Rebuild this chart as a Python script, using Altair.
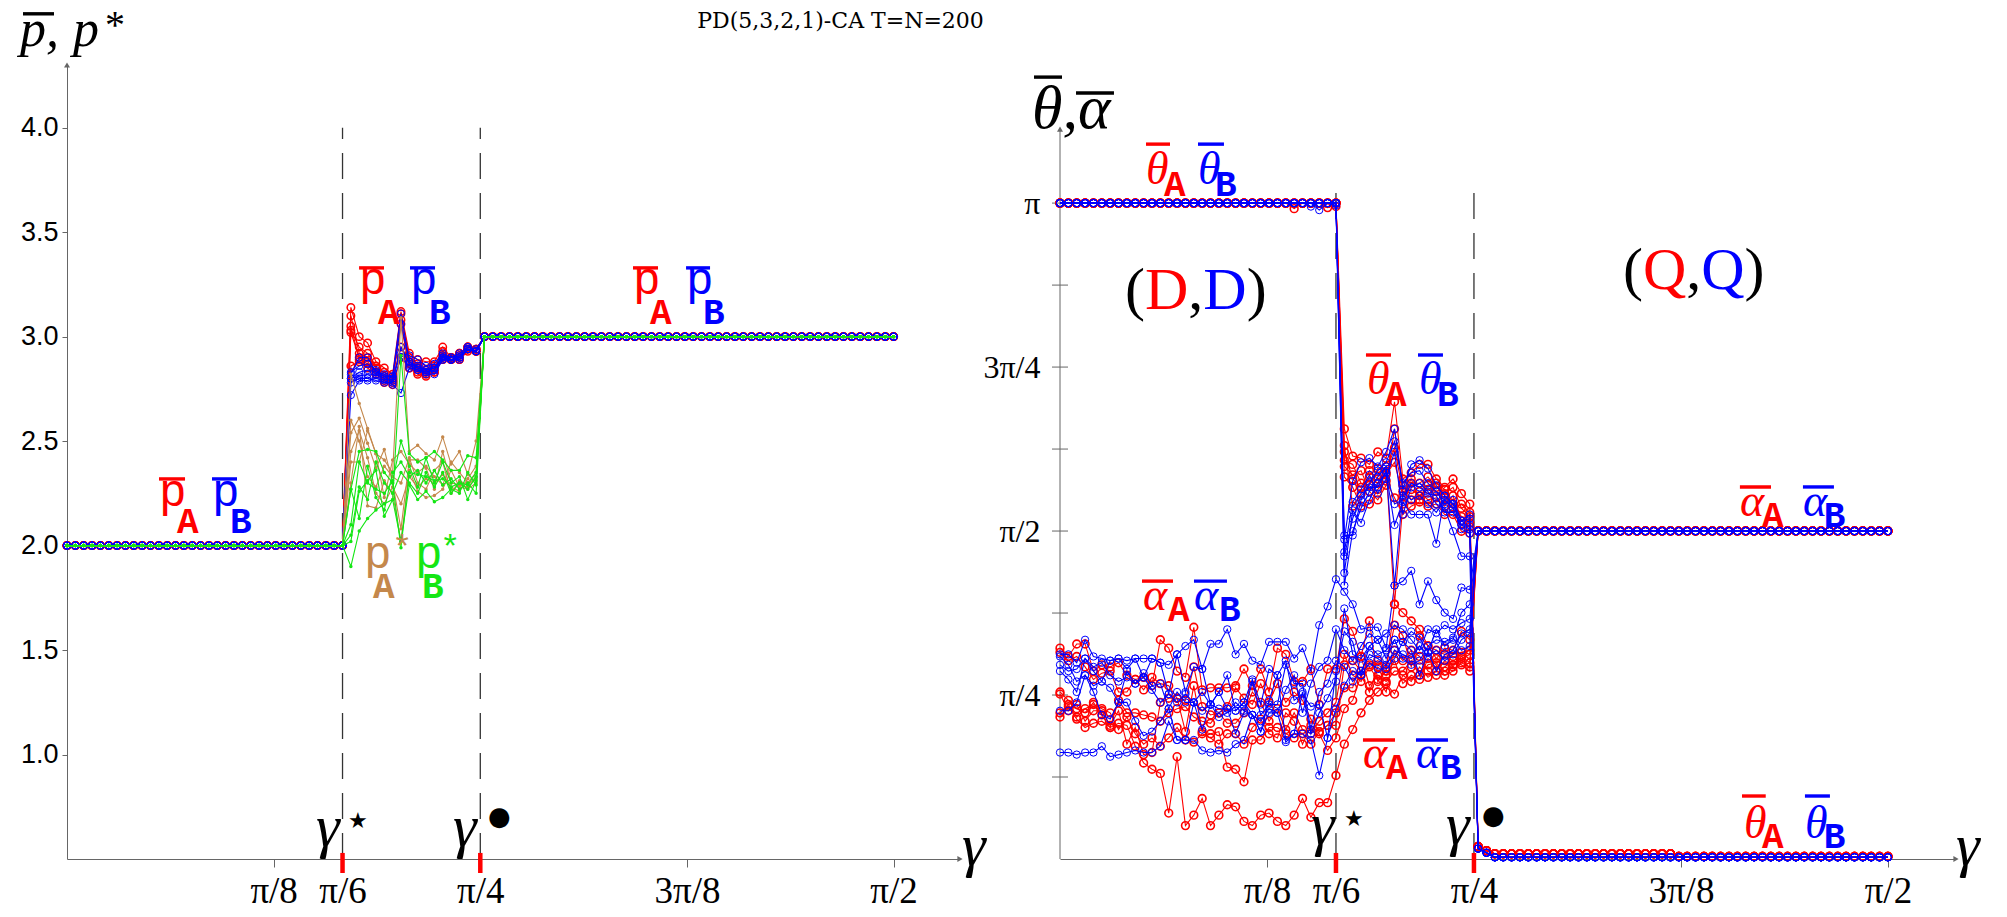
import math
import altair as alt
import pandas as pd

PI = math.pi
RED = "#ff0000"
BLUE = "#0000ff"
BROWN = "#c4884c"
GREEN = "#14e614"
AXIS = "#666666"
INK = "#000000"

# gamma grid: 100 samples on [0, pi/2]; index 33 is pi/6
STEP = PI / 198
GAMMA = [i * STEP for i in range(100)]
N_LOW, N_HIGH = 34, 50          # plateau lengths before pi/6 and after pi/4

# ---------------- left panel: payoffs ----------------
PBAR_LOW, PBAR_HIGH = 2.0, 3.0

# transition samples, gamma index 34..49, six runs each
pbar_A_mid = [
    [3.14, 3.00, 2.97, 2.88, 2.85, 2.82, 3.12, 2.92, 2.89, 2.88, 2.88, 2.95, 2.90, 2.92, 2.95, 2.94],
    [3.10, 2.92, 2.90, 2.85, 2.83, 2.80, 3.08, 2.88, 2.85, 2.84, 2.85, 2.91, 2.89, 2.89, 2.93, 2.93],
    [3.05, 2.89, 2.87, 2.82, 2.81, 2.78, 3.06, 2.85, 2.82, 2.81, 2.83, 2.89, 2.90, 2.92, 2.95, 2.94],
    [3.03, 2.95, 2.92, 2.86, 2.78, 2.80, 2.95, 2.87, 2.86, 2.84, 2.84, 2.93, 2.89, 2.90, 2.94, 2.93],
    [3.02, 2.90, 2.88, 2.83, 2.80, 2.77, 2.90, 2.85, 2.83, 2.82, 2.83, 2.89, 2.89, 2.89, 2.94, 2.93],
    [2.86, 2.88, 2.85, 2.82, 2.79, 2.79, 3.11, 2.90, 2.87, 2.83, 2.86, 2.90, 2.90, 2.91, 2.95, 2.94],
]
pbar_B_mid = [
    [2.72, 2.79, 2.79, 2.80, 2.79, 2.77, 2.73, 2.85, 2.84, 2.83, 2.84, 2.89, 2.89, 2.90, 2.94, 2.93],
    [2.80, 2.83, 2.84, 2.83, 2.81, 2.81, 3.11, 2.88, 2.85, 2.84, 2.85, 2.91, 2.90, 2.92, 2.95, 2.94],
    [2.82, 2.90, 2.90, 2.83, 2.82, 2.80, 2.92, 2.91, 2.89, 2.86, 2.87, 2.92, 2.89, 2.90, 2.95, 2.93],
    [2.78, 2.80, 2.80, 2.79, 2.78, 2.78, 2.90, 2.86, 2.84, 2.82, 2.82, 2.89, 2.89, 2.89, 2.94, 2.93],
    [2.83, 2.86, 2.87, 2.84, 2.81, 2.81, 3.06, 2.88, 2.86, 2.84, 2.85, 2.90, 2.90, 2.91, 2.94, 2.93],
    [2.80, 2.81, 2.82, 2.82, 2.80, 2.79, 2.95, 2.87, 2.85, 2.83, 2.84, 2.90, 2.89, 2.90, 2.94, 2.93],
]
pstar_A_mid = [
    [2.82, 2.68, 2.56, 2.44, 2.41, 2.35, 3.09, 2.45, 2.48, 2.44, 2.41, 2.52, 2.39, 2.45, 2.34, 2.50],
    [2.54, 2.61, 2.49, 2.37, 2.46, 2.30, 2.08, 2.41, 2.41, 2.37, 2.27, 2.45, 2.30, 2.29, 2.28, 2.32],
    [2.30, 2.57, 2.19, 2.18, 2.31, 2.25, 2.02, 2.36, 2.26, 2.23, 2.24, 2.27, 2.36, 2.28, 2.27, 2.30],
    [2.40, 2.40, 2.55, 2.44, 2.23, 2.41, 2.45, 2.39, 2.35, 2.38, 2.33, 2.29, 2.40, 2.35, 2.30, 2.35],
    [2.60, 2.50, 2.33, 2.28, 2.38, 2.33, 2.30, 2.42, 2.30, 2.27, 2.36, 2.40, 2.25, 2.31, 2.29, 2.33],
    [2.45, 2.55, 2.42, 2.25, 2.20, 2.28, 2.20, 2.33, 2.28, 2.32, 2.30, 2.34, 2.28, 2.26, 2.32, 2.38],
]
pstar_B_mid = [
    [1.90, 2.07, 2.13, 2.17, 2.20, 2.22, 2.91, 2.44, 2.40, 2.42, 2.45, 2.41, 2.36, 2.36, 2.43, 2.42],
    [2.27, 2.45, 2.46, 2.45, 2.35, 2.30, 1.99, 2.35, 2.34, 2.33, 2.31, 2.32, 2.28, 2.30, 2.29, 2.35],
    [2.02, 2.26, 2.31, 2.36, 2.14, 2.22, 2.02, 2.29, 2.22, 2.26, 2.21, 2.23, 2.27, 2.25, 2.35, 2.29],
    [2.10, 2.40, 2.30, 2.27, 2.25, 2.31, 2.50, 2.38, 2.28, 2.42, 2.30, 2.40, 2.30, 2.33, 2.22, 2.31],
    [2.27, 2.13, 2.38, 2.23, 2.17, 2.35, 2.40, 2.33, 2.36, 2.30, 2.36, 2.29, 2.32, 2.27, 2.30, 2.25],
    [2.05, 2.28, 2.22, 2.40, 2.30, 2.25, 2.35, 2.30, 2.25, 2.35, 2.28, 2.35, 2.25, 2.30, 2.27, 2.33],
]

# ---------------- right panel: strategy angles ----------------
THETA_D = PI          # (D,D) plateau
ALPHA_Q = PI / 2      # (Q,Q) plateau

# theta, gamma index 28..33 (just before pi/6)
theta_A_edge = [
    [3.115, PI, PI, PI, PI, PI],
    [PI, PI, PI, PI, 3.12, PI],
    [PI, PI, PI, PI, PI, PI],
    [PI, PI, PI, PI, PI, 3.125],
    [PI, PI, PI, PI, PI, PI],
    [PI, PI, PI, PI, PI, PI],
]
theta_B_edge = [
    [PI, PI, PI, 3.108, PI, PI],
    [PI, PI, 3.125, PI, PI, PI],
    [PI, PI, PI, PI, PI, 3.13],
    [PI, PI, PI, PI, PI, PI],
    [PI, PI, PI, PI, PI, PI],
    [PI, PI, PI, PI, PI, PI],
]
# theta, gamma index 34..49
theta_A_mid = [
    [2.06, 1.93, 1.92, 1.89, 1.95, 1.92, 2.19, 1.82, 1.85, 1.89, 1.89, 1.82, 1.78, 1.82, 1.75, 1.70],
    [1.91, 1.89, 1.80, 1.79, 1.87, 1.85, 1.97, 1.76, 1.77, 1.74, 1.77, 1.76, 1.73, 1.70, 1.64, 1.61],
    [1.83, 1.78, 1.69, 1.70, 1.77, 1.81, 1.73, 1.65, 1.69, 1.71, 1.69, 1.70, 1.65, 1.65, 1.57, 1.56],
    [1.98, 1.69, 1.75, 1.83, 1.80, 1.88, 1.22, 1.70, 1.80, 1.80, 1.83, 1.78, 1.75, 1.78, 1.68, 1.64],
    [1.88, 1.84, 1.86, 1.76, 1.72, 1.79, 2.06, 1.79, 1.72, 1.76, 1.72, 1.73, 1.69, 1.74, 1.62, 1.59],
    [1.95, 1.82, 1.78, 1.86, 1.82, 1.84, 1.90, 1.74, 1.82, 1.72, 1.79, 1.80, 1.77, 1.68, 1.70, 1.66],
]
theta_B_mid = [
    [1.53, 1.81, 1.90, 1.92, 1.88, 1.95, 2.06, 1.77, 1.89, 1.91, 1.87, 1.79, 1.74, 1.70, 1.62, 1.65],
    [1.47, 1.71, 1.77, 1.84, 1.75, 1.82, 1.95, 1.65, 1.78, 1.80, 1.76, 1.70, 1.68, 1.57, 1.45, 1.45],
    [1.37, 1.67, 1.61, 1.72, 1.80, 1.85, 1.60, 1.71, 1.65, 1.65, 1.65, 1.51, 1.74, 1.70, 1.60, 1.60],
    [1.31, 1.57, 1.68, 1.76, 1.83, 1.88, 1.31, 1.76, 1.72, 1.74, 1.70, 1.66, 1.72, 1.68, 1.58, 1.56],
    [1.55, 1.55, 1.72, 1.80, 1.86, 1.90, 2.00, 1.80, 1.85, 1.86, 1.80, 1.76, 1.70, 1.72, 1.62, 1.63],
    [1.45, 1.63, 1.74, 1.78, 1.78, 1.86, 1.70, 1.72, 1.80, 1.78, 1.75, 1.74, 1.66, 1.66, 1.60, 1.58],
]
# theta after pi/4 (gamma index 50..99)
theta_A_tail = [0.06, 0.04] + [0.025] * 22 + [0.012] * 26
theta_B_tail = [0.05, 0.03] + [0.008] * 48

# alpha, gamma index 0..32
alpha_A_head = [
    [1.01, 0.97, 1.03, 1.03, 0.90, 0.93, 0.92, 0.94, 0.88, 0.86, 0.87, 0.83, 1.05, 1.01, 0.90, 0.87, 1.11,
     0.81, 0.82, 0.82, 0.82, 0.83, 0.91, 0.83, 0.91, 0.80, 1.01, 0.98, 0.85, 0.85, 0.91, 0.74, 0.91],
    [0.99, 0.95, 0.97, 0.92, 0.86, 0.89, 0.90, 0.80, 0.80, 0.86, 0.81, 0.87, 0.84, 0.83, 0.77, 0.76, 0.92,
     0.73, 0.69, 0.70, 0.73, 0.82, 0.77, 0.74, 0.84, 0.75, 0.84, 0.75, 0.80, 0.76, 0.67, 0.61, 0.64],
    [0.79, 0.71, 0.74, 0.66, 0.71, 0.71, 0.64, 0.71, 0.55, 0.63, 0.50, 0.51, 0.75, 0.77, 0.77, 0.61, 0.83,
     0.61, 0.60, 0.61, 0.44, 0.43, 0.37, 0.57, 0.57, 0.63, 0.63, 0.60, 0.58, 0.60, 0.55, 0.61, 0.64],
    [0.68, 0.73, 0.67, 0.63, 0.65, 0.66, 0.63, 0.65, 0.64, 0.54, 0.46, 0.43, 0.41, 0.22, 0.49, 0.16, 0.21,
     0.29, 0.16, 0.21, 0.26, 0.25, 0.18, 0.16, 0.21, 0.22, 0.18, 0.16, 0.21, 0.29, 0.20, 0.27, 0.27],
    [0.80, 0.76, 0.72, 0.70, 0.75, 0.69, 0.63, 0.76, 0.70, 0.70, 0.69, 0.68, 0.66, 0.70, 0.72, 0.73, 0.68,
     0.66, 0.65, 0.70, 0.65, 0.65, 0.70, 0.80, 0.75, 0.66, 0.72, 0.62, 0.70, 0.62, 0.60, 0.66, 0.70],
    [0.70, 0.74, 0.68, 0.72, 0.74, 0.72, 0.70, 0.62, 0.68, 0.60, 0.55, 0.58, 0.54, 0.58, 0.63, 0.57, 0.56,
     0.60, 0.58, 0.55, 0.60, 0.60, 0.55, 0.63, 0.67, 0.60, 0.58, 0.70, 0.66, 0.55, 0.64, 0.60, 0.52],
]
alpha_B_head = [
    [0.51, 0.51, 0.50, 0.51, 0.51, 0.54, 0.49, 0.50, 0.51, 0.52, 0.51, 0.51, 0.54, 0.66, 0.57, 0.57, 0.57,
     0.52, 0.51, 0.52, 0.51, 0.55, 0.57, 0.69, 0.61, 0.70, 0.70, 0.56, 0.60, 0.60, 0.57, 0.40, 0.58],
    [0.98, 0.98, 0.94, 1.05, 0.97, 0.96, 0.95, 0.96, 0.95, 0.96, 0.96, 0.96, 0.94, 0.93, 0.98, 1.02, 1.05,
     0.91, 1.03, 1.03, 1.10, 0.98, 1.03, 0.95, 0.93, 1.04, 1.04, 1.04, 0.96, 1.01, 0.90, 1.12, 1.21],
    [0.97, 0.93, 0.85, 0.88, 0.83, 0.85, 0.82, 0.75, 0.90, 0.84, 0.87, 0.81, 0.75, 0.79, 0.75, 0.79, 0.75,
     0.71, 0.74, 0.80, 0.88, 0.71, 0.75, 0.86, 0.74, 0.91, 0.88, 0.95, 0.76, 0.79, 0.73, 0.74, 0.58],
    [0.90, 0.86, 0.80, 0.96, 0.90, 0.85, 0.95, 0.96, 0.91, 0.96, 0.87, 0.96, 0.94, 0.79, 0.98, 0.80, 0.92,
     0.91, 0.74, 0.80, 0.72, 0.71, 0.75, 0.69, 0.61, 0.76, 0.88, 0.57, 0.60, 0.80, 0.60, 0.70, 0.77],
    [0.71, 0.71, 0.75, 0.88, 0.80, 0.69, 0.67, 0.75, 0.75, 0.66, 0.59, 0.61, 0.66, 0.72, 0.57, 0.57, 0.75,
     0.62, 0.74, 0.72, 0.72, 0.60, 0.70, 0.85, 0.69, 0.74, 0.74, 0.93, 0.84, 0.84, 0.62, 0.80, 0.84],
    [0.93, 0.90, 0.91, 0.96, 0.92, 0.94, 0.88, 0.85, 0.87, 0.84, 0.89, 0.83, 0.84, 0.72, 0.80, 0.75, 0.75,
     0.80, 0.74, 0.68, 0.70, 0.75, 0.71, 0.69, 0.66, 0.72, 0.70, 0.81, 0.88, 0.70, 0.84, 0.92, 0.95],
]
# alpha, gamma index 33..49
alpha_A_mid = [
    [0.91, 1.15, 1.09, 0.97, 1.14, 0.85, 0.90, 1.22, 1.18, 1.14, 1.10, 1.02, 0.96, 1.01, 1.00, 1.09, 1.05],
    [0.64, 0.93, 0.95, 0.90, 0.93, 0.95, 0.92, 1.12, 1.07, 0.92, 1.07, 1.02, 1.00, 0.98, 0.97, 0.96, 0.98],
    [0.70, 0.82, 0.82, 0.97, 0.83, 0.88, 0.85, 0.90, 0.90, 0.95, 0.88, 0.93, 0.94, 0.90, 0.93, 0.97, 0.94],
    [0.40, 0.55, 0.62, 0.70, 0.76, 0.80, 0.84, 0.79, 0.88, 0.85, 0.92, 0.87, 0.90, 0.95, 0.92, 0.99, 1.00],
    [0.75, 0.98, 0.88, 0.85, 0.92, 0.86, 0.80, 1.00, 0.95, 1.00, 0.97, 0.90, 0.88, 0.92, 0.95, 0.93, 0.90],
    [0.58, 0.72, 0.76, 0.88, 0.80, 0.92, 0.88, 0.95, 0.84, 0.88, 0.86, 0.96, 0.93, 0.88, 0.90, 0.94, 0.92],
]
alpha_B_mid = [
    [0.90, 1.09, 1.04, 0.88, 1.02, 1.05, 0.96, 1.05, 1.04, 1.09, 1.06, 0.99, 1.10, 1.02, 1.05, 1.18, 1.22],
    [1.34, 1.28, 1.22, 1.10, 1.11, 1.11, 1.01, 1.31, 1.33, 1.38, 1.22, 1.33, 1.24, 1.18, 1.15, 1.30, 1.29],
    [0.72, 0.83, 0.90, 0.88, 0.94, 0.91, 0.91, 0.96, 1.04, 1.00, 0.88, 0.99, 0.90, 0.98, 1.00, 1.08, 1.10],
    [0.85, 1.20, 0.98, 0.96, 1.02, 0.98, 1.00, 1.05, 0.96, 0.93, 0.95, 1.02, 1.05, 1.04, 1.06, 1.00, 1.02],
    [0.95, 0.92, 0.85, 0.90, 0.98, 0.96, 0.93, 1.00, 0.98, 0.96, 1.02, 0.97, 1.00, 0.95, 0.98, 1.05, 1.08],
    [1.10, 1.00, 0.95, 1.02, 1.08, 1.05, 1.08, 1.12, 1.10, 1.05, 1.00, 1.10, 1.08, 1.12, 1.10, 1.13, 1.15],
]


def frame(runs):
    rows = []
    for r, vals in enumerate(runs):
        assert len(vals) == len(GAMMA)
        for g, v in zip(GAMMA, vals):
            rows.append({"gamma": g, "value": v, "run": r})
    return pd.DataFrame(rows)


def payoff_runs(mid):
    return [[PBAR_LOW] * N_LOW + m + [PBAR_HIGH] * N_HIGH for m in mid]


df_pA = frame(payoff_runs(pbar_A_mid))
df_pB = frame(payoff_runs(pbar_B_mid))
df_sA = frame(payoff_runs(pstar_A_mid))
df_sB = frame(payoff_runs(pstar_B_mid))

df_tA = frame([[THETA_D] * 28 + e + m + theta_A_tail for e, m in zip(theta_A_edge, theta_A_mid)])
df_tB = frame([[THETA_D] * 28 + e + m + theta_B_tail for e, m in zip(theta_B_edge, theta_B_mid)])
df_aA = frame([h + m + [ALPHA_Q] * N_HIGH for h, m in zip(alpha_A_head, alpha_A_mid)])
df_aB = frame([h + m + [ALPHA_Q] * N_HIGH for h, m in zip(alpha_B_head, alpha_B_mid)])

# ---------------- shared styling ----------------
SERIF = "Liberation Serif"
MONO = "Liberation Mono"
SYM = "DejaVu Sans"

LEFT_W, RIGHT_W, PANEL_H = 893, 896, 794
LEFT_X = [0, 1.697]
LEFT_Y = [0.5, 4.3]
RIGHT_X = [0, 1.70]
RIGHT_Y = [0, 3.803]

x_label_expr = ("datum.value < 0.45 ? 'π/8' : datum.value < 0.6 ? 'π/6' : "
                "datum.value < 0.9 ? 'π/4' : datum.value < 1.3 ? '3π/8' : 'π/2'")
x_ticks = [PI / 8, PI / 6, PI / 4, 3 * PI / 8, PI / 2]

x_axis = alt.Axis(values=x_ticks, labelExpr=x_label_expr, title=None, grid=False,
                  domainColor=AXIS, tickColor=AXIS, tickSize=8, labelPadding=6,
                  labelFont=SERIF, labelFontSize=37, labelColor=INK, labelOverlap=False,
                  labelFlush=False)

left_y_axis = alt.Axis(values=[1.0, 1.5, 2.0, 2.5, 3.0, 3.5, 4.0], format=".1f", title=None,
                       grid=False, domainColor=AXIS, tickColor=AXIS, tickSize=5, labelPadding=4,
                       labelFont="Liberation Sans", labelFontSize=27, labelColor=INK)

right_y_expr = ("abs(datum.value-PI)<0.01 ? 'π' : abs(datum.value-3*PI/4)<0.01 ? '3π/4' : "
                "abs(datum.value-PI/2)<0.01 ? 'π/2' : abs(datum.value-PI/4)<0.01 ? 'π/4' : ''")
right_y_ticks = [k * PI / 8 for k in range(1, 9)]
right_y_axis = alt.Axis(values=right_y_ticks, labelExpr=right_y_expr, title=None, grid=False,
                        domain=False, ticks=False, labelPadding=20, labelFont=SERIF,
                        labelFontSize=32, labelColor=INK)

XL = alt.X("gamma:Q", scale=alt.Scale(domain=LEFT_X, nice=False, zero=False), axis=x_axis)
YL = alt.Y("value:Q", scale=alt.Scale(domain=LEFT_Y, nice=False, zero=False), axis=left_y_axis)
XR = alt.X("gamma:Q", scale=alt.Scale(domain=RIGHT_X, nice=False, zero=False), axis=x_axis)
YR = alt.Y("value:Q", scale=alt.Scale(domain=RIGHT_Y, nice=False, zero=False), axis=right_y_axis)


def series(df, color, X, Y, circles=True, ring=1.0, size=52):
    line = alt.Chart(df).mark_line(color=color, strokeWidth=1.1).encode(x=X, y=Y, detail="run:N")
    if circles:
        pts = alt.Chart(df).mark_point(shape="circle", filled=False, color=color, size=size,
                                       strokeWidth=ring, opacity=1).encode(x=X, y=Y)
    else:
        pts = alt.Chart(df).mark_circle(color=color, size=12, opacity=1).encode(x=X, y=Y)
    return [line, pts]


def texts(rows, X, Y, font, style="normal", weight="normal", align="left"):
    df = pd.DataFrame(rows, columns=["gamma", "value", "label", "color", "size"])
    return alt.Chart(df).mark_text(font=font, fontStyle=style, fontWeight=weight, align=align,
                                   baseline="alphabetic").encode(
        x=X, y=Y, text="label:N",
        color=alt.Color("color:N", scale=None), size=alt.Size("size:Q", scale=None))


def bars(rows, X, Y, width=3.4):
    df = pd.DataFrame(rows, columns=["gamma", "gamma2", "value", "color"])
    return alt.Chart(df).mark_rule(strokeWidth=width).encode(
        x=X, x2="gamma2:Q", y=Y, color=alt.Color("color:N", scale=None))


def vrules(rows, X, Y, color, width, dash=None):
    df = pd.DataFrame(rows, columns=["gamma", "value", "value2"])
    kw = dict(color=color, strokeWidth=width)
    if dash:
        kw["strokeDash"] = dash
    return alt.Chart(df).mark_rule(**kw).encode(x=X, y=Y, y2="value2:Q")


def arrows(rows, X, Y):
    df = pd.DataFrame(rows, columns=["gamma", "value", "shape"])
    return alt.Chart(df).mark_point(filled=True, color=AXIS, size=36, opacity=1).encode(
        x=X, y=Y, shape=alt.Shape("shape:N", scale=None))


# ---------------- left panel ----------------
left_layers = [
    alt.Chart(pd.DataFrame({"k": [0]})).mark_rule(color="white", strokeWidth=1).encode(
        x=alt.value(-66.5), y=alt.value(-64), y2=alt.value(PANEL_H + 59)),
    vrules([[PI / 6, 0.5, 4.0], [PI / 4, 0.5, 4.0]], XL, YL, "#333333", 1.3, [26, 14]),
]
left_layers += series(df_pA, RED, XL, YL, ring=1.5, size=56)
left_layers += series(df_pB, BLUE, XL, YL, ring=1.0, size=52)
left_layers += series(df_sA, BROWN, XL, YL, circles=False)
left_layers += series(df_sB, GREEN, XL, YL, circles=False)
left_layers += [
    vrules([[PI / 6, 0.433, 0.529], [PI / 4, 0.433, 0.529]], XL, YL, RED, 4.5),
    arrows([[0, 4.3, "triangle-up"], [1.697, 0.5, "triangle-right"]], XL, YL),
    texts([[0.1748, 2.190, "p", RED, 46], [0.2756, 2.190, "p", BLUE, 46],
           [0.555, 3.205, "p", RED, 46], [0.6518, 3.205, "p", BLUE, 46],
           [1.0756, 3.205, "p", RED, 46], [1.1764, 3.205, "p", BLUE, 46],
           [0.5644, 1.893, "p", BROWN, 46], [0.6613, 1.893, "p", GREEN, 46],
           [0.6176, 1.941, "*", BROWN, 34], [0.7088, 1.941, "*", GREEN, 34]], XL, YL, MONO),
    texts([[0.209, 2.061, "A", RED, 36], [0.3098, 2.061, "B", BLUE, 36],
           [0.591, 3.060, "A", RED, 36], [0.688, 3.060, "B", BLUE, 36],
           [1.108, 3.060, "A", RED, 36], [1.2087, 3.060, "B", BLUE, 36],
           [0.5815, 1.749, "A", BROWN, 36], [0.6747, 1.749, "B", GREEN, 36]], XL, YL, MONO,
          weight="bold"),
    bars([[0.1748, 0.2243, 2.319, RED], [0.2756, 0.3231, 2.319, BLUE],
          [0.555, 0.6024, 3.329, RED], [0.6518, 0.6994, 3.329, BLUE],
          [1.0756, 1.1231, 3.329, RED], [1.1764, 1.222, 3.329, BLUE],
          [-0.0836, -0.0247, 4.545, INK]], XL, YL),
    texts([[0.4732, 0.562, "γ", INK, 60], [0.7336, 0.562, "γ", INK, 60],
           [1.701, 0.471, "γ", INK, 60],
           [-0.0893, 4.390, "p,", INK, 52], [0.0114, 4.390, "p", INK, 52]], XL, YL, SERIF,
          style="italic"),
    texts([[0.0722, 4.430, "*", INK, 40]], XL, YL, SERIF),
    texts([[0.534, 0.648, "★", INK, 22], [0.800, 0.663, "●", INK, 26]], XL, YL, SYM),
    texts([[1.470, 4.475, "PD(5,3,2,1)-CA T=N=200", INK, 22]], XL, YL, "DejaVu Serif",
          align="center"),
]
left = alt.layer(*left_layers).properties(width=LEFT_W, height=PANEL_H)

# ---------------- right panel ----------------
cross_ticks = pd.DataFrame({"value": right_y_ticks})
right_layers = [
    alt.Chart(pd.DataFrame({"k": [0]})).mark_rule(color="white", strokeWidth=1).encode(
        x=alt.value(RIGHT_W + 50.5), y=alt.value(0), y2=alt.value(PANEL_H)),
    vrules([[0, 0, 3.496]], XR, YR, AXIS, 1),
    alt.Chart(cross_ticks).mark_rule(color=AXIS, strokeWidth=1).encode(
        x=alt.value(-8), x2=alt.value(8), y=YR),
    vrules([[PI / 6, 0, 3.25], [PI / 4, 0, 3.25]], XR, YR, "#333333", 1.3, [26, 14]),
]
right_layers += series(df_aA, RED, XR, YR, ring=1.6, size=60)
right_layers += series(df_aB, BLUE, XR, YR, ring=1.0, size=54)
right_layers += series(df_tA, RED, XR, YR, ring=1.6, size=60)
right_layers += series(df_tB, BLUE, XR, YR, ring=1.0, size=54)
right_layers += [
    vrules([[PI / 6, -0.067, 0.029], [PI / 4, -0.067, 0.029]], XR, YR, RED, 4.5),
    arrows([[0, 3.496, "triangle-up"], [1.70, 0, "triangle-right"]], XR, YR),
    texts([[0.1632, 3.233, "θ", RED, 46], [0.2618, 3.233, "θ", BLUE, 46],
           [0.5824, 2.227, "θ", RED, 46], [0.681, 2.227, "θ", BLUE, 46],
           [1.2977, 0.1006, "θ", RED, 46], [1.4134, 0.1006, "θ", BLUE, 46],
           [1.290, 1.643, "α", RED, 46], [1.4096, 1.643, "α", BLUE, 46],
           [0.1575, 1.1925, "α", RED, 46], [0.2542, 1.1925, "α", BLUE, 46],
           [0.5748, 0.436, "α", RED, 46], [0.6754, 0.436, "α", BLUE, 46],
           [0.4762, 0.0718, "γ", INK, 60], [0.7323, 0.0718, "γ", INK, 60],
           [1.700, -0.0287, "γ", INK, 60],
           [-0.0531, 3.501, "θ,α", INK, 62]], XR, YR, SERIF, style="italic"),
    texts([[0.1973, 3.175, "A", RED, 36], [0.294, 3.175, "B", BLUE, 36],
           [0.6166, 2.170, "A", RED, 36], [0.7152, 2.170, "B", BLUE, 36],
           [1.332, 0.0527, "A", RED, 36], [1.449, 0.0527, "B", BLUE, 36],
           [1.332, 1.590, "A", RED, 36], [1.449, 1.590, "B", BLUE, 36],
           [0.2049, 1.140, "A", RED, 36], [0.3017, 1.140, "B", BLUE, 36],
           [0.6185, 0.383, "A", RED, 36], [0.721, 0.383, "B", BLUE, 36]], XR, YR, MONO,
          weight="bold"),
    bars([[0.1632, 0.2087, 3.424, RED], [0.2618, 0.3111, 3.424, BLUE],
          [0.5805, 0.628, 2.414, RED], [0.6792, 0.7266, 2.414, BLUE],
          [1.294, 1.339, 0.3017, RED], [1.4134, 1.4608, 0.3017, BLUE],
          [1.290, 1.349, 1.782, RED], [1.4096, 1.4684, 1.782, BLUE],
          [0.1556, 0.2144, 1.331, RED], [0.2542, 0.3168, 1.331, BLUE],
          [0.5748, 0.6356, 0.570, RED], [0.6754, 0.7361, 0.570, BLUE],
          [-0.0493, 0.0038, 3.745, INK], [0.0304, 0.1024, 3.669, INK]], XR, YR),
    texts([[0.1233, 2.634, "(", INK, 60], [0.1613, 2.634, "D", RED, 60],
           [0.2434, 2.634, ",", INK, 60], [0.2719, 2.634, "D", BLUE, 60],
           [0.3541, 2.634, ")", INK, 60],
           [1.0681, 2.730, "(", INK, 60], [1.1060, 2.730, "Q", RED, 60],
           [1.1882, 2.730, ",", INK, 60], [1.2166, 2.730, "Q", BLUE, 60],
           [1.2988, 2.730, ")", INK, 60]], XR, YR, SERIF),
    texts([[0.5388, 0.158, "★", INK, 22], [0.8006, 0.1676, "●", INK, 26]], XR, YR, SYM),
]
right = alt.layer(*right_layers).properties(width=RIGHT_W, height=PANEL_H)

chart = alt.hconcat(left, right, spacing=100, bounds="flush").properties(
    padding=0, background="white"
).configure_view(stroke=None)

chart.save("out.html", embed_options={"renderer": "svg", "actions": False})
